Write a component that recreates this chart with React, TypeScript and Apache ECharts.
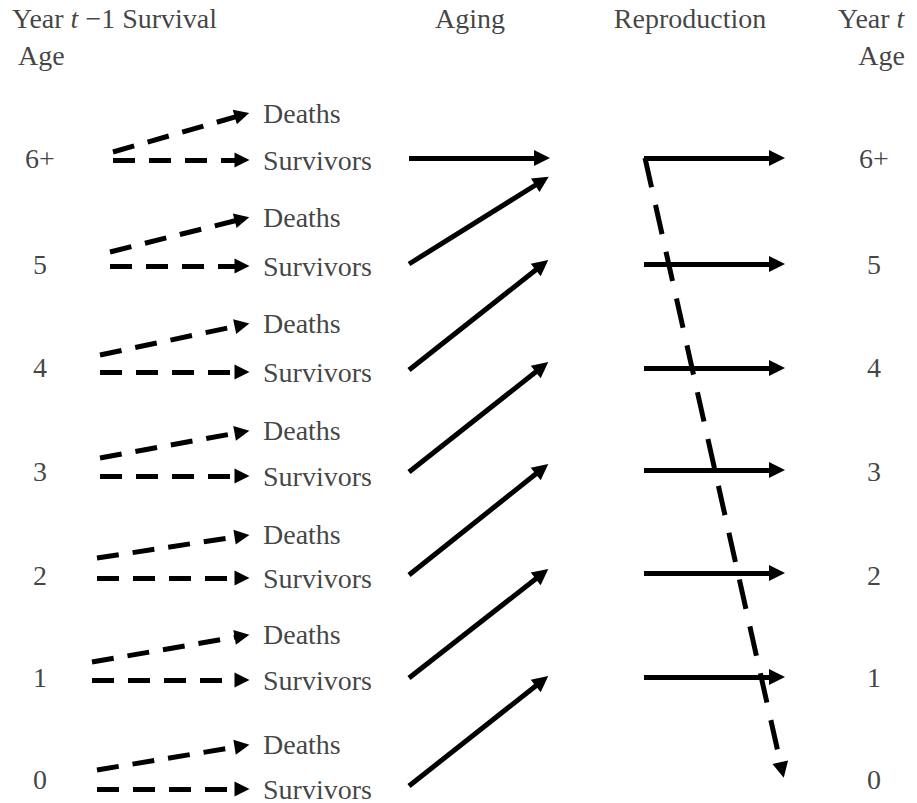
import React, { useEffect, useRef } from "react";
import * as echarts from "echarts";

const ages = ["6+", "5", "4", "3", "2", "1", "0"];
const ageY = [158, 264, 367, 471, 575, 677, 779];
const deathTextY = [113, 217, 323, 430, 534, 634, 744];
const survTextY = [160, 266, 372, 476, 578, 680, 789];
const survStartX = [113, 110, 100, 100, 97, 92, 97];
const deathStartY = [152, 252, 355, 458, 558, 662, 770];
const agingFromY = [158, 264, 370, 472, 575, 678, 786];
const agingToY = [158, 181, 265, 367, 469, 574, 681];
const reproY = [158, 264, 368, 470, 573, 677];

const FONT = "Liberation Serif";

export default function App() {
  const ref = useRef<HTMLDivElement>(null);
  useEffect(() => {
    const chart = echarts.init(ref.current!, null, { renderer: "svg" });
    const survLines = ages.map((_, i) => ({
      coords: [
        [survStartX[i], survTextY[i]],
        [242, survTextY[i]],
      ],
    }));
    const deathLines = ages.map((_, i) => ({
      coords: [
        [survStartX[i], deathStartY[i]],
        [242, deathTextY[i] + 2],
      ],
    }));
    const agingLines = ages.map((_, i) => ({
      coords: [
        [409, agingFromY[i]],
        [542, agingToY[i]],
      ],
    }));
    const reproLines = reproY.map((y) => ({
      coords: [
        [644, y],
        [777, y],
      ],
    }));
    const texts: any[] = [];
    ages.forEach((a, i) => {
      texts.push({ value: [40, ageY[i]], name: a, align: "center" });
      texts.push({ value: [874, ageY[i]], name: a, align: "center" });
      texts.push({ value: [263, deathTextY[i]], name: "Deaths", align: "left" });
      texts.push({ value: [263, survTextY[i]], name: "Survivors", align: "left" });
    });
    const headers: any[] = [
      { value: [12, 18], name: "{n|Year }{i|t}{n| \u22121 Survival}", align: "left" },
      { value: [18, 55], name: "{n|Age}", align: "left" },
      { value: [470, 18], name: "{n|Aging}", align: "center" },
      { value: [690, 18], name: "{n|Reproduction}", align: "center" },
      { value: [838, 18], name: "{n|Year }{i|t}", align: "left" },
      { value: [905, 55], name: "{n|Age}", align: "right" },
    ];
    const lineBase = { color: "#000", width: 5 };
    chart.setOption({
      animation: false,
      grid: { left: 0, top: 0, right: 0, bottom: 0 },
      xAxis: { type: "value", min: 0, max: 917, show: false },
      yAxis: { type: "value", min: 0, max: 803, inverse: true, show: false },
      series: [
        {
          type: "lines",
          coordinateSystem: "cartesian2d",
          symbol: ["none", "triangle"],
          symbolSize: 15,
          lineStyle: { ...lineBase, type: [22, 14], opacity: 1 },
          data: [...survLines, ...deathLines],
        },
        {
          type: "lines",
          coordinateSystem: "cartesian2d",
          symbol: ["none", "triangle"],
          symbolSize: 16,
          lineStyle: { ...lineBase, type: "solid", opacity: 1 },
          data: [...agingLines, ...reproLines],
        },
        {
          type: "lines",
          coordinateSystem: "cartesian2d",
          symbol: ["none", "triangle"],
          symbolSize: 16,
          lineStyle: { ...lineBase, type: [30, 18], opacity: 1 },
          data: [{ coords: [[645, 158], [782, 770]] }],
        },
        {
          type: "scatter",
          symbolSize: 0,
          silent: true,
          data: texts.map((t) => ({
            value: t.value,
            name: t.name,
            label: { align: t.align },
          })),
          label: {
            show: true,
            position: "inside",
            formatter: (p: any) => p.name,
            color: "#111",
            fontFamily: FONT,
            fontSize: 28,
            verticalAlign: "middle",
          },
        },
        {
          type: "scatter",
          symbolSize: 0,
          silent: true,
          data: headers.map((t) => ({
            value: t.value,
            name: t.name,
            label: { align: t.align },
          })),
          label: {
            show: true,
            position: "inside",
            formatter: (p: any) => p.name,
            verticalAlign: "middle",
            fontFamily: FONT,
            fontSize: 28,
            rich: {
              n: { color: "#111", fontFamily: FONT, fontSize: 28 },
              i: { color: "#111", fontFamily: FONT, fontSize: 28, fontStyle: "italic" },
            },
          },
        },
      ],
    });
    return () => chart.dispose();
  }, []);
  return (
    <div
      ref={ref}
      style={{ position: "fixed", left: 0, top: 0, width: 917, height: 803, background: "#fff" }}
    />
  );
}
